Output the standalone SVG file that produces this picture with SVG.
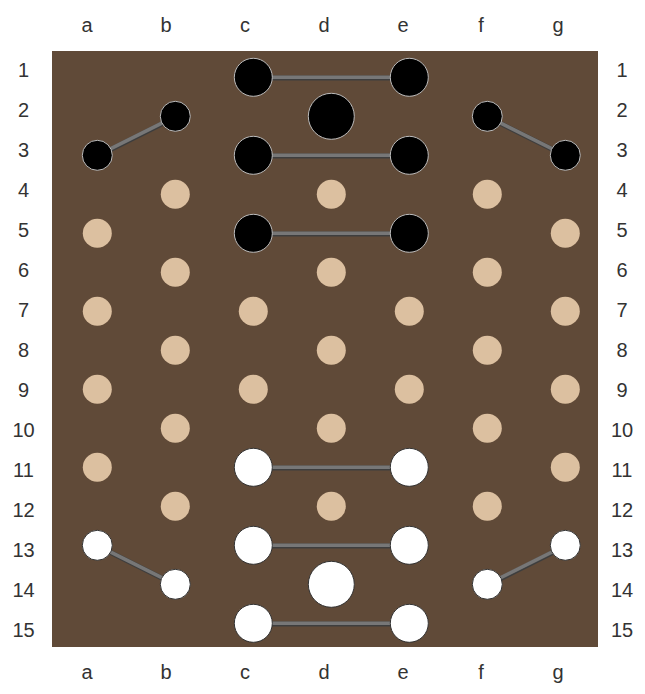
<svg xmlns="http://www.w3.org/2000/svg" width="645" height="694" viewBox="0 0 645 694">
<style>
.lbl{font-family:"Liberation Sans",Arial,sans-serif;font-size:20px;fill:#333;text-anchor:middle}
.b{fill:#000;stroke:#bbb;stroke-width:1}
.w{fill:#fff;stroke:#333;stroke-width:1}
.p{fill:#dcc0a0}
.cd{stroke:#3e3e3e;stroke-width:5}
.cl{stroke:#777;stroke-width:3.6}
</style>
<rect x="52" y="51" width="546" height="596" fill="#604a38"/>
<g id="col-labels-top">
<text class="lbl" x="87" y="32">a</text><text class="lbl" x="166" y="32">b</text><text class="lbl" x="245" y="32">c</text><text class="lbl" x="324" y="32">d</text><text class="lbl" x="403" y="32">e</text><text class="lbl" x="481" y="32">f</text><text class="lbl" x="558" y="32">g</text>
</g>
<g id="col-labels-bottom">
<text class="lbl" x="87" y="679">a</text><text class="lbl" x="166" y="679">b</text><text class="lbl" x="245" y="679">c</text><text class="lbl" x="324" y="679">d</text><text class="lbl" x="403" y="679">e</text><text class="lbl" x="481" y="679">f</text><text class="lbl" x="558" y="679">g</text>
</g>
<g id="row-labels-left">
<text class="lbl" x="23.5" y="76.5">1</text><text class="lbl" x="23.5" y="116.5">2</text><text class="lbl" x="23.5" y="156.5">3</text><text class="lbl" x="23.5" y="196.5">4</text><text class="lbl" x="23.5" y="236.5">5</text><text class="lbl" x="23.5" y="276.5">6</text><text class="lbl" x="23.5" y="316.5">7</text><text class="lbl" x="23.5" y="356.5">8</text><text class="lbl" x="23.5" y="396.5">9</text><text class="lbl" x="23.5" y="436.5">10</text><text class="lbl" x="23.5" y="476.5">11</text><text class="lbl" x="23.5" y="516.5">12</text><text class="lbl" x="23.5" y="556.5">13</text><text class="lbl" x="23.5" y="596.5">14</text><text class="lbl" x="23.5" y="636.5">15</text>
</g>
<g id="row-labels-right">
<text class="lbl" x="622" y="76.5">1</text><text class="lbl" x="622" y="116.5">2</text><text class="lbl" x="622" y="156.5">3</text><text class="lbl" x="622" y="196.5">4</text><text class="lbl" x="622" y="236.5">5</text><text class="lbl" x="622" y="276.5">6</text><text class="lbl" x="622" y="316.5">7</text><text class="lbl" x="622" y="356.5">8</text><text class="lbl" x="622" y="396.5">9</text><text class="lbl" x="622" y="436.5">10</text><text class="lbl" x="622" y="476.5">11</text><text class="lbl" x="622" y="516.5">12</text><text class="lbl" x="622" y="556.5">13</text><text class="lbl" x="622" y="596.5">14</text><text class="lbl" x="622" y="636.5">15</text>
</g>
<g id="connectors">
<g transform="translate(0.4,0.8)">
<line class="cd" x1="253.3" y1="77.3" x2="409.3" y2="77.3"/>
<line class="cd" x1="253.3" y1="155.3" x2="409.3" y2="155.3"/>
<line class="cd" x1="253.3" y1="233.3" x2="409.3" y2="233.3"/>
<line class="cd" x1="97.3" y1="155.3" x2="175.3" y2="116.3"/>
<line class="cd" x1="487.3" y1="116.3" x2="565.3" y2="155.3"/>
<line class="cd" x1="253.3" y1="467.3" x2="409.3" y2="467.3"/>
<line class="cd" x1="253.3" y1="545.3" x2="409.3" y2="545.3"/>
<line class="cd" x1="253.3" y1="623.3" x2="409.3" y2="623.3"/>
<line class="cd" x1="97.3" y1="545.3" x2="175.3" y2="584.3"/>
<line class="cd" x1="487.3" y1="584.3" x2="565.3" y2="545.3"/>
</g>
<line class="cl" x1="253.3" y1="77.3" x2="409.3" y2="77.3"/>
<line class="cl" x1="253.3" y1="155.3" x2="409.3" y2="155.3"/>
<line class="cl" x1="253.3" y1="233.3" x2="409.3" y2="233.3"/>
<line class="cl" x1="97.3" y1="155.3" x2="175.3" y2="116.3"/>
<line class="cl" x1="487.3" y1="116.3" x2="565.3" y2="155.3"/>
<line class="cl" x1="253.3" y1="467.3" x2="409.3" y2="467.3"/>
<line class="cl" x1="253.3" y1="545.3" x2="409.3" y2="545.3"/>
<line class="cl" x1="253.3" y1="623.3" x2="409.3" y2="623.3"/>
<line class="cl" x1="97.3" y1="545.3" x2="175.3" y2="584.3"/>
<line class="cl" x1="487.3" y1="584.3" x2="565.3" y2="545.3"/>
</g>
<g id="points">
<circle class="p" cx="175.3" cy="194.3" r="14.5"/><circle class="p" cx="331.3" cy="194.3" r="14.5"/><circle class="p" cx="487.3" cy="194.3" r="14.5"/>
<circle class="p" cx="97.3" cy="233.3" r="14.5"/><circle class="p" cx="565.3" cy="233.3" r="14.5"/>
<circle class="p" cx="175.3" cy="272.3" r="14.5"/><circle class="p" cx="331.3" cy="272.3" r="14.5"/><circle class="p" cx="487.3" cy="272.3" r="14.5"/>
<circle class="p" cx="97.3" cy="311.3" r="14.5"/><circle class="p" cx="253.3" cy="311.3" r="14.5"/><circle class="p" cx="409.3" cy="311.3" r="14.5"/><circle class="p" cx="565.3" cy="311.3" r="14.5"/>
<circle class="p" cx="175.3" cy="350.3" r="14.5"/><circle class="p" cx="331.3" cy="350.3" r="14.5"/><circle class="p" cx="487.3" cy="350.3" r="14.5"/>
<circle class="p" cx="97.3" cy="389.3" r="14.5"/><circle class="p" cx="253.3" cy="389.3" r="14.5"/><circle class="p" cx="409.3" cy="389.3" r="14.5"/><circle class="p" cx="565.3" cy="389.3" r="14.5"/>
<circle class="p" cx="175.3" cy="428.3" r="14.5"/><circle class="p" cx="331.3" cy="428.3" r="14.5"/><circle class="p" cx="487.3" cy="428.3" r="14.5"/>
<circle class="p" cx="97.3" cy="467.3" r="14.5"/><circle class="p" cx="565.3" cy="467.3" r="14.5"/>
<circle class="p" cx="175.3" cy="506.3" r="14.5"/><circle class="p" cx="331.3" cy="506.3" r="14.5"/><circle class="p" cx="487.3" cy="506.3" r="14.5"/>
</g>
<g id="black-c1"><circle class="b" cx="253.3" cy="77.3" r="19"/></g>
<g id="black-e1"><circle class="b" cx="409.3" cy="77.3" r="19"/></g>
<g id="black-b2"><circle class="b" cx="175.3" cy="116.3" r="15"/></g>
<g id="black-d2"><circle class="b" cx="331.3" cy="116.3" r="23"/></g>
<g id="black-f2"><circle class="b" cx="487.3" cy="116.3" r="15"/></g>
<g id="black-a3"><circle class="b" cx="97.3" cy="155.3" r="15"/></g>
<g id="black-c3"><circle class="b" cx="253.3" cy="155.3" r="19"/></g>
<g id="black-e3"><circle class="b" cx="409.3" cy="155.3" r="19"/></g>
<g id="black-g3"><circle class="b" cx="565.3" cy="155.3" r="15"/></g>
<g id="black-c5"><circle class="b" cx="253.3" cy="233.3" r="19"/></g>
<g id="black-e5"><circle class="b" cx="409.3" cy="233.3" r="19"/></g>
<g id="white-c11"><circle class="w" cx="253.3" cy="467.3" r="19"/></g>
<g id="white-e11"><circle class="w" cx="409.3" cy="467.3" r="19"/></g>
<g id="white-a13"><circle class="w" cx="97.3" cy="545.3" r="15"/></g>
<g id="white-c13"><circle class="w" cx="253.3" cy="545.3" r="19"/></g>
<g id="white-e13"><circle class="w" cx="409.3" cy="545.3" r="19"/></g>
<g id="white-g13"><circle class="w" cx="565.3" cy="545.3" r="15"/></g>
<g id="white-b14"><circle class="w" cx="175.3" cy="584.3" r="15"/></g>
<g id="white-d14"><circle class="w" cx="331.3" cy="584.3" r="23"/></g>
<g id="white-f14"><circle class="w" cx="487.3" cy="584.3" r="15"/></g>
<g id="white-c15"><circle class="w" cx="253.3" cy="623.3" r="19"/></g>
<g id="white-e15"><circle class="w" cx="409.3" cy="623.3" r="19"/></g>
</svg>
